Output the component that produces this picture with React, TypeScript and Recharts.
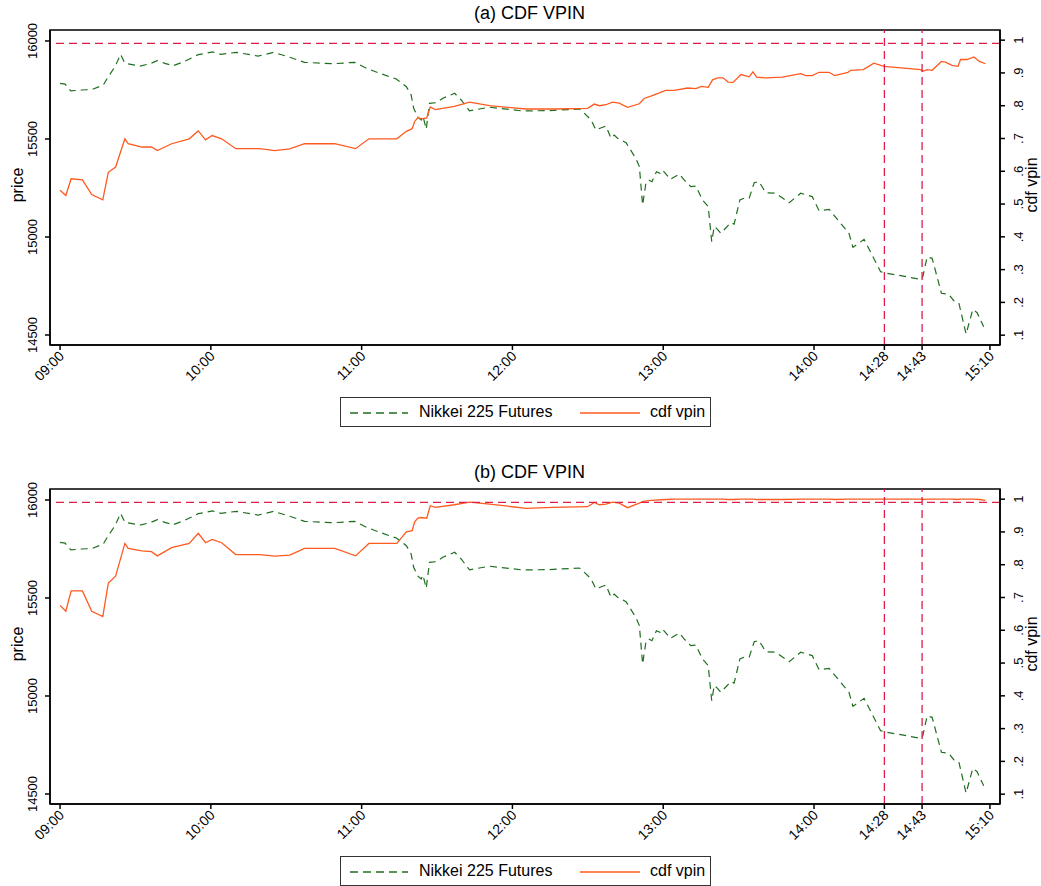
import { LineChart, Line, XAxis, YAxis, ReferenceLine, ReferenceArea } from 'recharts'

// minutes after midnight of each Nikkei observation
const nikkeiTime = [
  540.0, 542.0, 544.3, 548.6, 552.6, 557.2, 559.2, 561.9, 564.1, 565.8,
  571.8, 575.8, 578.7, 581.7, 585.0, 589.0, 595.0, 600.7, 603.9, 610.2,
  618.8, 625.0, 631.4, 637.3, 648.6, 657.2, 661.9, 667.2, 673.8, 677.8,
  679.7, 680.7, 682.4, 683.7, 684.4, 685.7, 687.0, 689.7, 692.3, 697.0,
  699.6, 702.9, 710.9, 724.1, 734.7, 746.6, 747.9, 751.3, 753.2, 757.2,
  759.2, 760.5, 761.8, 765.2, 769.1, 770.5, 771.8, 773.1, 774.2, 775.5,
  777.3, 778.7, 779.7, 781.1, 782.8, 786.4, 788.3, 791.0, 793.0, 795.6,
  797.9, 799.3, 800.3, 801.6, 802.9, 806.9, 808.2, 810.5, 812.2, 814.2,
  816.2, 818.1, 820.8, 824.8, 830.1, 834.7, 839.3, 842.0, 846.0, 853.9,
  855.5, 859.9, 866.5, 867.8, 882.4, 883.3, 885.0, 887.0, 890.7, 893.6,
  895.6, 897.6, 900.5, 903.2, 904.9, 907.5,
]
const nikkeiPrice = [
  15784, 15780, 15745, 15750, 15752, 15775, 15818, 15870, 15932, 15886,
  15872, 15884, 15900, 15886, 15874, 15893, 15930, 15944, 15932, 15942,
  15923, 15942, 15917, 15891, 15884, 15891, 15861, 15835, 15806, 15767,
  15724, 15657, 15611, 15597, 15617, 15550, 15682, 15685, 15708, 15733,
  15699, 15644, 15662, 15643, 15645, 15653, 15640, 15597, 15546, 15566,
  15504, 15520, 15504, 15481, 15401, 15359, 15163, 15274, 15291, 15282,
  15333, 15325, 15342, 15321, 15294, 15321, 15291, 15257, 15260, 15189,
  15155, 14976, 15053, 15039, 15019, 15073, 15066, 15189, 15198, 15198,
  15277, 15282, 15226, 15223, 15175, 15223, 15206, 15134, 15141, 15019,
  14947, 14988, 14823, 14818, 14784, 14798, 14898, 14891, 14713, 14708,
  14675, 14665, 14505, 14631, 14614, 14542,
]

// minutes after midnight of each VPIN bucket
const vpinTime = [
  540.0, 542.3, 544.4, 548.9, 552.6, 557.0, 559.2, 562.1, 565.8, 567.1,
  572.5, 576.4, 578.7, 584.4, 591.4, 595.0, 597.9, 600.5, 604.3, 609.9,
  619.5, 625.4, 631.4, 637.3, 649.3, 657.6, 662.9, 674.0, 677.8, 680.1,
  681.1, 682.4, 683.7, 685.9, 687.3, 689.3, 696.9, 702.9, 710.9, 725.4,
  736.0, 749.9, 752.6, 754.6, 757.2, 759.8, 762.5, 765.8, 770.5, 772.4,
  775.1, 781.0, 784.4, 789.7, 793.0, 795.2, 797.9, 799.6, 801.6, 803.8,
  805.8, 807.8, 810.9, 814.2, 815.7, 817.2, 820.8, 827.4, 834.7, 836.7,
  839.3, 842.0, 846.0, 848.2, 853.5, 854.6, 859.6, 863.8, 867.8, 882.4,
  883.4, 885.0, 887.0, 890.7, 892.3, 894.9, 897.3, 898.3, 900.9, 903.6,
  905.8, 908.2,
]
const vpinA = [
  0.542, 0.526, 0.577, 0.574, 0.529, 0.513, 0.597, 0.613, 0.699, 0.684,
  0.674, 0.674, 0.663, 0.684, 0.699, 0.723, 0.696, 0.709, 0.699, 0.669,
  0.669, 0.663, 0.668, 0.684, 0.684, 0.669, 0.699, 0.699, 0.722, 0.730,
  0.752, 0.764, 0.760, 0.763, 0.796, 0.788, 0.798, 0.811, 0.800, 0.790,
  0.790, 0.792, 0.805, 0.800, 0.803, 0.811, 0.808, 0.795, 0.806, 0.822,
  0.829, 0.847, 0.847, 0.854, 0.852, 0.859, 0.856, 0.879, 0.885, 0.885,
  0.872, 0.871, 0.895, 0.888, 0.903, 0.887, 0.885, 0.887, 0.898, 0.892,
  0.892, 0.902, 0.902, 0.892, 0.902, 0.908, 0.910, 0.930, 0.920, 0.910,
  0.905, 0.910, 0.908, 0.935, 0.933, 0.923, 0.920, 0.941, 0.941, 0.949,
  0.935, 0.928,
]
const vpinB = [
  0.676, 0.658, 0.720, 0.720, 0.658, 0.642, 0.744, 0.765, 0.865, 0.850,
  0.842, 0.840, 0.827, 0.852, 0.865, 0.896, 0.867, 0.877, 0.867, 0.831,
  0.831, 0.826, 0.829, 0.850, 0.850, 0.827, 0.865, 0.865, 0.900, 0.904,
  0.931, 0.942, 0.944, 0.942, 0.980, 0.975, 0.983, 0.991, 0.985, 0.972,
  0.975, 0.977, 0.990, 0.983, 0.985, 0.991, 0.988, 0.974, 0.988, 0.994,
  0.996, 0.999, 1.0, 1.0, 1.0, 1.0, 1.0, 1.0, 1.0, 1.0,
  0.999, 0.999, 1.0, 1.0, 1.0, 0.999, 0.999, 0.999, 1.0, 1.0,
  1.0, 1.0, 1.0, 0.999, 1.0, 1.0, 1.0, 1.0, 1.0, 1.0,
  0.999, 1.0, 1.0, 1.0, 1.0, 1.0, 0.999, 1.0, 1.0, 1.0,
  0.999, 0.996,
]

const timeTicks = [540, 600, 660, 720, 780, 840, 868, 883, 910]
const timeLabels = ['09:00', '10:00', '11:00', '12:00', '13:00', '14:00', '14:28', '14:43', '15:10']
const priceTicks = [14500, 15000, 15500, 16000]
const vpinTicks = [0.1, 0.2, 0.3, 0.4, 0.5, 0.6, 0.7, 0.8, 0.9, 1]
const vpinLabels = ['.1', '.2', '.3', '.4', '.5', '.6', '.7', '.8', '.9', '1']
const cdfThreshold = 0.99
const eventTimes = [868, 883]

const FONT = '"Liberation Sans", Arial, Helvetica, sans-serif'
const GREEN = '#1f6e1f'
const ORANGE = '#ff5a1f'
const CRIMSON = '#dc1e48'

type Row = { t: number; price?: number; vpin?: number }

function buildRows(vpin: number[]): Row[] {
  const byTime = new Map<number, Row>()
  nikkeiTime.forEach((t, i) => {
    byTime.set(t, { ...(byTime.get(t) || { t }), price: nikkeiPrice[i] })
  })
  vpinTime.forEach((t, i) => {
    byTime.set(t, { ...(byTime.get(t) || { t }), vpin: vpin[i] })
  })
  return [...byTime.values()].sort((a, b) => a.t - b.t)
}

const LeftTick = ({ x, y, payload }: any) => (
  <text x={x - 6} y={y} transform={`rotate(-90 ${x - 6} ${y})`} textAnchor="middle" fontSize={13} fill="#000" fontFamily={FONT}>
    {payload.value}
  </text>
)

const RightTick = ({ x, y, payload }: any) => (
  <text x={x + 16} y={y} transform={`rotate(-90 ${x + 16} ${y})`} textAnchor="middle" fontSize={13} fill="#000" fontFamily={FONT}>
    {vpinLabels[vpinTicks.indexOf(payload.value)]}
  </text>
)

const TimeTick = ({ x, y, payload }: any) => (
  <text x={x + 5} y={y + 5} transform={`rotate(-45 ${x + 5} ${y + 5})`} textAnchor="end" fontSize={14} fill="#000" fontFamily={FONT}>
    {timeLabels[timeTicks.indexOf(payload.value)]}
  </text>
)

function Panel({ title, vpin, top }: { title: string; vpin: number[]; top: number }) {
  const rows = buildRows(vpin)
  return (
    <div style={{ position: 'absolute', left: 0, top, width: 1041, height: 430, fontFamily: FONT }}>
      <div style={{ position: 'absolute', left: 0, width: 1041, top: 3, textAlign: 'center', fontSize: 18, paddingLeft: 9 }}>
        {title}
      </div>
      <div style={{ position: 'absolute', left: -22, top: 176, width: 80, textAlign: 'center', fontSize: 16, transform: 'rotate(-90deg)' }}>
        price
      </div>
      <div style={{ position: 'absolute', left: 992, top: 176, width: 80, textAlign: 'center', fontSize: 16, transform: 'rotate(-90deg)' }}>
        cdf vpin
      </div>
      <LineChart width={1041} height={395} data={rows} margin={{ top: 30, right: 0, bottom: 15, left: 0 }}>
        <XAxis
          dataKey="t"
          type="number"
          domain={[536, 914]}
          ticks={timeTicks}
          tick={<TimeTick />}
          tickSize={5}
          height={35}
          stroke="#000"
          strokeWidth={1.5}
          allowDataOverflow
        />
        <YAxis
          yAxisId="left"
          domain={[14449, 16056]}
          ticks={priceTicks}
          tick={<LeftTick />}
          tickSize={5}
          width={50}
          stroke="#000"
          strokeWidth={1.5}
          allowDataOverflow
        />
        <YAxis
          yAxisId="right"
          orientation="right"
          domain={[0.07, 1.031]}
          ticks={vpinTicks}
          tick={<RightTick />}
          tickSize={5}
          width={41}
          stroke="#000"
          strokeWidth={1.5}
          allowDataOverflow
        />
        <ReferenceArea yAxisId="left" x1={536} x2={914} y1={14449} y2={16056} fill="none" stroke="#000" strokeWidth={1.5} />
        <Line
          yAxisId="left"
          dataKey="price"
          stroke={GREEN}
          strokeWidth={1.2}
          strokeDasharray="7 5"
          dot={false}
          connectNulls
          isAnimationActive={false}
        />
        <Line
          yAxisId="right"
          dataKey="vpin"
          stroke={ORANGE}
          strokeWidth={1.3}
          dot={false}
          connectNulls
          isAnimationActive={false}
        />
        <ReferenceLine yAxisId="right" y={cdfThreshold} stroke={CRIMSON} strokeWidth={1.3} strokeDasharray="8 5" />
        {eventTimes.map((t) => (
          <ReferenceLine key={t} yAxisId="left" x={t} stroke={CRIMSON} strokeWidth={1.3} strokeDasharray="8 5" />
        ))}
      </LineChart>
      <div style={{ position: 'absolute', left: 340, top: 397, width: 369, height: 28, border: '1px solid #333', fontSize: 16 }}>
        <svg style={{ position: 'absolute', left: 9, top: 13 }} width={58} height={4}>
          <line x1={0} y1={2} x2={58} y2={2} stroke={GREEN} strokeWidth={1.3} strokeDasharray="8 5" />
        </svg>
        <span style={{ position: 'absolute', left: 78, top: 5 }}>Nikkei 225 Futures</span>
        <svg style={{ position: 'absolute', left: 239, top: 13 }} width={60} height={4}>
          <line x1={0} y1={2} x2={60} y2={2} stroke={ORANGE} strokeWidth={1.3} />
        </svg>
        <span style={{ position: 'absolute', left: 309, top: 5 }}>cdf vpin</span>
      </div>
    </div>
  )
}

export default function App() {
  return (
    <div style={{ position: 'absolute', left: 0, top: 0, width: 1041, height: 886, background: '#fff' }}>
      <Panel title="(a) CDF VPIN" vpin={vpinA} top={0} />
      <Panel title="(b) CDF VPIN" vpin={vpinB} top={459} />
    </div>
  )
}
